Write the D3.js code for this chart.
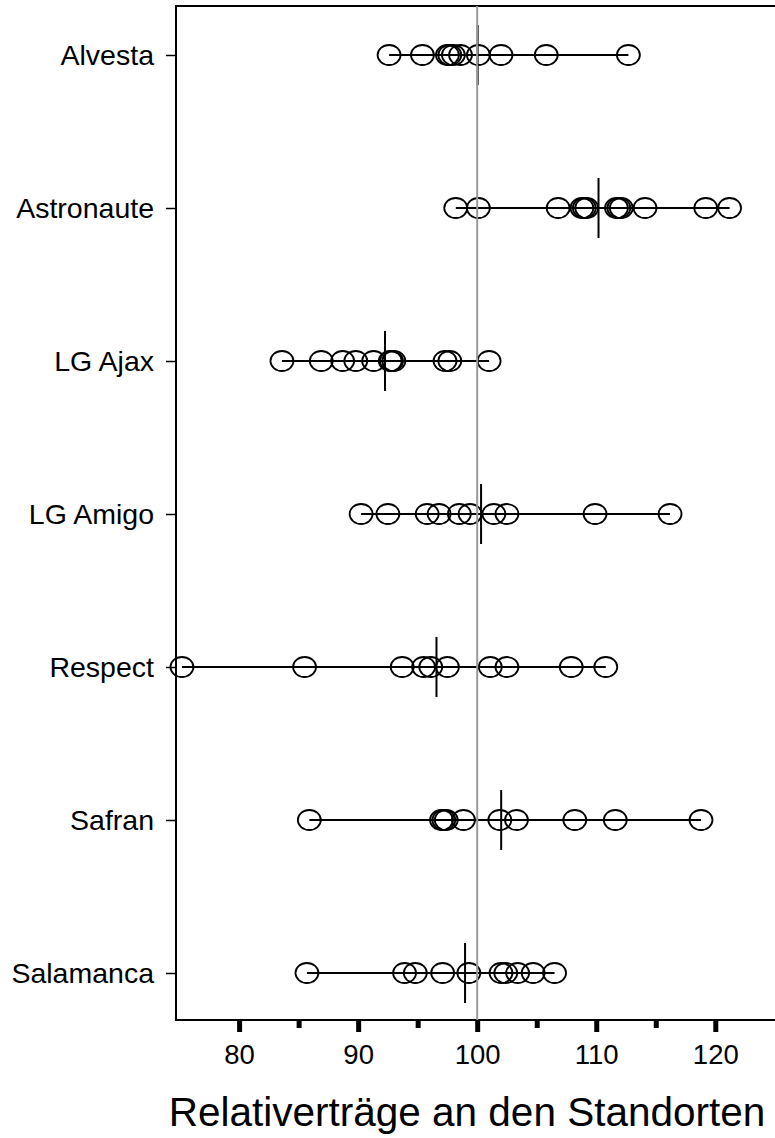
<!DOCTYPE html>
<html>
<head>
<meta charset="utf-8">
<script src="https://cdn.jsdelivr.net/npm/d3@7"></script>
<style>
  body { margin: 0; background: #fff; }
  svg text { font-family: "Liberation Sans", Arial, sans-serif; fill: #000; }
</style>
</head>
<body>
<svg id="chart"></svg>
<script>
// varieties (top to bottom)
const sorten = ['Alvesta', 'Astronaute', 'LG Ajax', 'LG Amigo', 'Respect', 'Safran', 'Salamanca'];

// relative yields per site, one array per variety
const alvesta    = [92.6, 95.4, 97.5, 97.7, 98.0, 98.6, 100.1, 102.0, 105.8, 112.7];
const astronaute = [98.2, 100.1, 106.8, 108.8, 109.0, 109.2, 111.7, 111.9, 112.1, 114.1, 119.2, 121.2];
const lgAjax     = [83.6, 86.9, 88.7, 89.8, 91.3, 92.7, 92.8, 93.0, 97.3, 97.7, 101.0];
const lgAmigo    = [90.25, 92.5, 95.8, 96.8, 98.5, 99.4, 101.4, 102.5, 109.9, 116.2];
const respect    = [75.2, 85.5, 93.7, 95.5, 96.1, 97.5, 101.1, 102.5, 107.9, 110.8];
const safran     = [85.9, 97.0, 97.2, 97.4, 98.85, 101.9, 103.3, 108.2, 111.6, 118.8];
const salamanca  = [85.7, 93.9, 94.8, 97.1, 99.3, 102.0, 102.4, 103.4, 104.7, 106.5];

const majorTicks = [80, 90, 100, 110, 120];
const minorTicks = [85, 95, 105, 115];
const refValue = 100;
const xTitle = 'Relativerträge an den Standorten';

const werte = [alvesta, astronaute, lgAjax, lgAmigo, respect, safran, salamanca];
const rows = sorten.map((s, i) => ({ name: s, values: werte[i] }));

const w = 775, h = 1138;
const mLeft = 176, mTop = 6, mBottom = 1020, mRight = 776;

const svg = d3.select('#chart').attr('width', w).attr('height', h);

const x = d3.scaleLinear().domain([74.7, 125.1]).range([mLeft, mRight]);
const y = d3.scalePoint().domain(sorten).range([55, 973]);

// frame
svg.append('rect')
  .attr('x', mLeft).attr('y', mTop)
  .attr('width', mRight - mLeft).attr('height', mBottom - mTop)
  .attr('fill', 'none').attr('stroke', '#000').attr('stroke-width', 2);

// y axis
const yAxis = svg.append('g')
  .attr('transform', `translate(${mLeft},0)`)
  .call(d3.axisLeft(y).tickSize(10).tickPadding(12));
yAxis.select('.domain').remove();
yAxis.selectAll('line').attr('stroke-width', 1.5);
yAxis.selectAll('text').attr('font-size', 28.5);

// x axis, major + minor
const xMajor = svg.append('g')
  .attr('transform', `translate(0,${mBottom})`)
  .call(d3.axisBottom(x).tickValues(majorTicks).tickSize(12).tickPadding(12));
xMajor.select('.domain').remove();
xMajor.selectAll('line').attr('stroke-width', 5);
xMajor.selectAll('text').attr('font-size', 27.5);

const xMinor = svg.append('g')
  .attr('transform', `translate(0,${mBottom})`)
  .call(d3.axisBottom(x).tickValues(minorTicks).tickSize(8).tickFormat(''));
xMinor.select('.domain').remove();
xMinor.selectAll('line').attr('stroke-width', 5);

svg.append('text')
  .attr('x', 467).attr('y', 1126)
  .attr('text-anchor', 'middle')
  .attr('font-size', 40.5)
  .text(xTitle);

// rows
const g = svg.selectAll('.row').data(rows).enter().append('g')
  .attr('class', 'row')
  .attr('transform', d => `translate(0,${y(d.name)})`);

g.append('line')
  .attr('x1', d => x(d3.min(d.values)))
  .attr('x2', d => x(d3.max(d.values)))
  .attr('stroke', '#000').attr('stroke-width', 1.8);

g.selectAll('ellipse').data(d => d.values).enter().append('ellipse')
  .attr('cx', d => x(d))
  .attr('cy', 0)
  .attr('rx', 11.5).attr('ry', 10)
  .attr('fill', 'none').attr('stroke', '#000').attr('stroke-width', 1.8);

g.append('line')
  .attr('x1', d => x(d3.mean(d.values)))
  .attr('x2', d => x(d3.mean(d.values)))
  .attr('y1', -30).attr('y2', 30)
  .attr('stroke', '#000').attr('stroke-width', 2);

// reference line at 100
svg.append('line')
  .attr('x1', x(refValue)).attr('x2', x(refValue))
  .attr('y1', mTop).attr('y2', mBottom)
  .attr('stroke', '#999').attr('stroke-width', 2);
</script>
</body>
</html>
